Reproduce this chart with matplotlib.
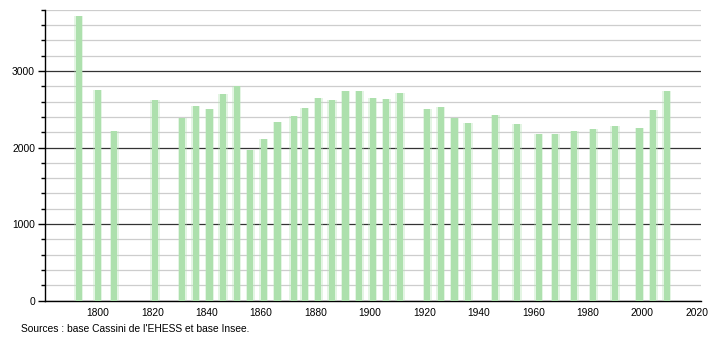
import numpy as np
import matplotlib.pyplot as plt
from matplotlib.ticker import MultipleLocator

plt.rcParams['font.family'] = ['Liberation Sans', 'DejaVu Sans']

# Années de recensement et population
years = [1793, 1800, 1806, 1821, 1831, 1836, 1841, 1846, 1851, 1856,
         1861, 1866, 1872, 1876, 1881, 1886, 1891, 1896, 1901, 1906,
         1911, 1921, 1926, 1931, 1936, 1946, 1954, 1962, 1968, 1975,
         1982, 1990, 1999, 2004, 2009]
population = [3718, 2755, 2216, 2623, 2385, 2538, 2501, 2705, 2799, 1965,
              2113, 2330, 2407, 2514, 2645, 2621, 2741, 2741, 2645, 2632,
              2711, 2501, 2536, 2387, 2322, 2426, 2304, 2173, 2173, 2216,
              2243, 2278, 2252, 2488, 2744]
x_ticks = [1800, 1820, 1840, 1860, 1880, 1900, 1920, 1940, 1960, 1980, 2000, 2020]
source = "Sources : base Cassini de l'EHESS et base Insee."


def main():
    fig = plt.figure(figsize=(7.1, 3.4), dpi=100)
    ax = fig.add_axes([0.063, 0.116, 0.924, 0.855])

    # barres avec un bord adouci
    ax.bar(years, population, width=3.4, color='#b4e4b4', alpha=0.35,
           linewidth=0, zorder=3)
    ax.bar(years, population, width=2.3, color='#ade0ad',
           linewidth=0, zorder=4)

    ax.set_xlim(1780.5, 2021.5)
    ax.set_ylim(0, 3800)
    ax.set_xticks(x_ticks)
    ax.yaxis.set_major_locator(MultipleLocator(1000))
    ax.yaxis.set_minor_locator(MultipleLocator(200))

    ax.grid(True, axis='y', which='minor', color='#cdcdcd', linewidth=0.9, zorder=1)
    ax.grid(True, axis='y', which='major', color='#333333', linewidth=0.9, zorder=2)

    for side in ['top', 'right']:
        ax.spines[side].set_visible(False)
    ax.spines['left'].set_linewidth(1.0)
    ax.spines['bottom'].set_linewidth(1.0)

    ax.tick_params(axis='x', length=0, labelsize=7.4, pad=5)
    ax.tick_params(axis='y', which='major', length=5, width=1, labelsize=7.4, pad=2)
    ax.tick_params(axis='y', which='minor', length=3, width=1)

    fig.text(0.029, 0.032, source, fontsize=7.4, ha='left', va='center')

    fig.savefig('out.png', dpi=100)


if __name__ == "__main__":
    main()
